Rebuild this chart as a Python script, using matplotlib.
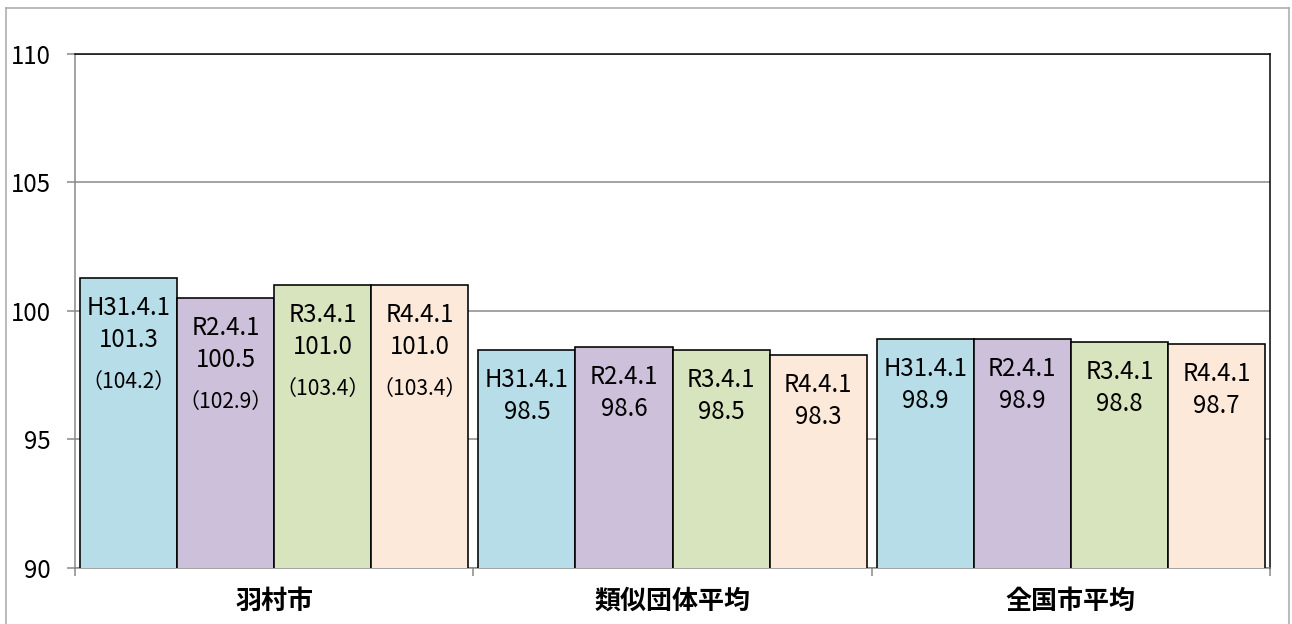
import matplotlib
matplotlib.use("Agg")
import matplotlib.pyplot as plt
from matplotlib.lines import Line2D
import numpy as np

plt.rcParams['font.family'] = ['Noto Sans CJK JP', 'DejaVu Sans']

categories = ['羽村市', '類似団体平均', '全国市平均']
dates = ['H31.4.1', 'R2.4.1', 'R3.4.1', 'R4.4.1']
hamura = [101.3, 100.5, 101.0, 101.0]
similar = [98.5, 98.6, 98.5, 98.3]
national = [98.9, 98.9, 98.8, 98.7]
hamura_paren = ['（104.2）', '（102.9）', '（103.4）', '（103.4）']
colors = ['#B7DEE8', '#CCC0DA', '#D7E4BD', '#FDE9D9']
yticks = [90, 95, 100, 105, 110]

series = [list(v) for v in zip(hamura, similar, national)]  # per date, per category

DPI = 72
W, H = 1292, 624
fig = plt.figure(figsize=(W / DPI, H / DPI), dpi=DPI)

# outer chart frame
fc = '#A6A6A6'
fig.add_artist(Line2D([6 / W, 6 / W], [0, 1 - 7.5 / H], transform=fig.transFigure, color=fc, lw=1.5))
fig.add_artist(Line2D([6 / W, 1289 / W], [1 - 7.5 / H, 1 - 7.5 / H], transform=fig.transFigure, color=fc, lw=1.5))
fig.add_artist(Line2D([1289 / W, 1289 / W], [0, 1 - 7.5 / H], transform=fig.transFigure, color=fc, lw=1.5))

left, right, top, bottom = 75, 1270, 54, 568
ax = fig.add_axes([left / W, 1 - bottom / H, (right - left) / W, (bottom - top) / H])

FS = 24
x = np.arange(len(categories))
bw = 0.2437
for i, (d, vals, c) in enumerate(zip(dates, series, colors)):
    xs = x + (i - 1.5) * bw
    ax.bar(xs, vals, width=bw, color=c, edgecolor='black', linewidth=1.6, zorder=3)
    for j, (xx, v) in enumerate(zip(xs, vals)):
        ax.annotate(d, xy=(xx, v), xytext=(0, -30), textcoords='offset points',
                    ha='center', va='center', fontsize=FS, zorder=4)
        ax.annotate(f'{v:.1f}', xy=(xx, v), xytext=(0, -62), textcoords='offset points',
                    ha='center', va='center', fontsize=FS, zorder=4)
        if j == 0:
            ax.annotate(hamura_paren[i], xy=(xx, v), xytext=(0, -104), textcoords='offset points',
                        ha='center', va='center', fontsize=21, zorder=4)

ax.set_ylim(90, 110)
ax.set_xlim(-0.5, 2.5)
ax.set_yticks(yticks)
ax.set_yticklabels([str(t) for t in yticks], fontsize=24)
ax.yaxis.grid(True, color='#868686', lw=1.5, zorder=0)
ax.set_axisbelow(True)

ax.set_xticks([-0.5, 0.5, 1.5, 2.5])
ax.set_xticklabels([])
ax.set_xticks(x, minor=True)
ax.set_xticklabels(categories, minor=True, fontsize=26, fontweight='bold')
ax.tick_params(axis='x', which='major', length=8, width=1.5, color='#868686', direction='out')
ax.tick_params(axis='x', which='minor', length=0, pad=20)
ax.tick_params(axis='y', length=8, width=1.5, color='#868686', direction='out', pad=16)

for s in ['left', 'bottom']:
    ax.spines[s].set_color('#868686')
    ax.spines[s].set_linewidth(1.5)
for s in ['top', 'right']:
    ax.spines[s].set_color('black')
    ax.spines[s].set_linewidth(1.5)

fig.savefig('out.png', dpi=DPI)
